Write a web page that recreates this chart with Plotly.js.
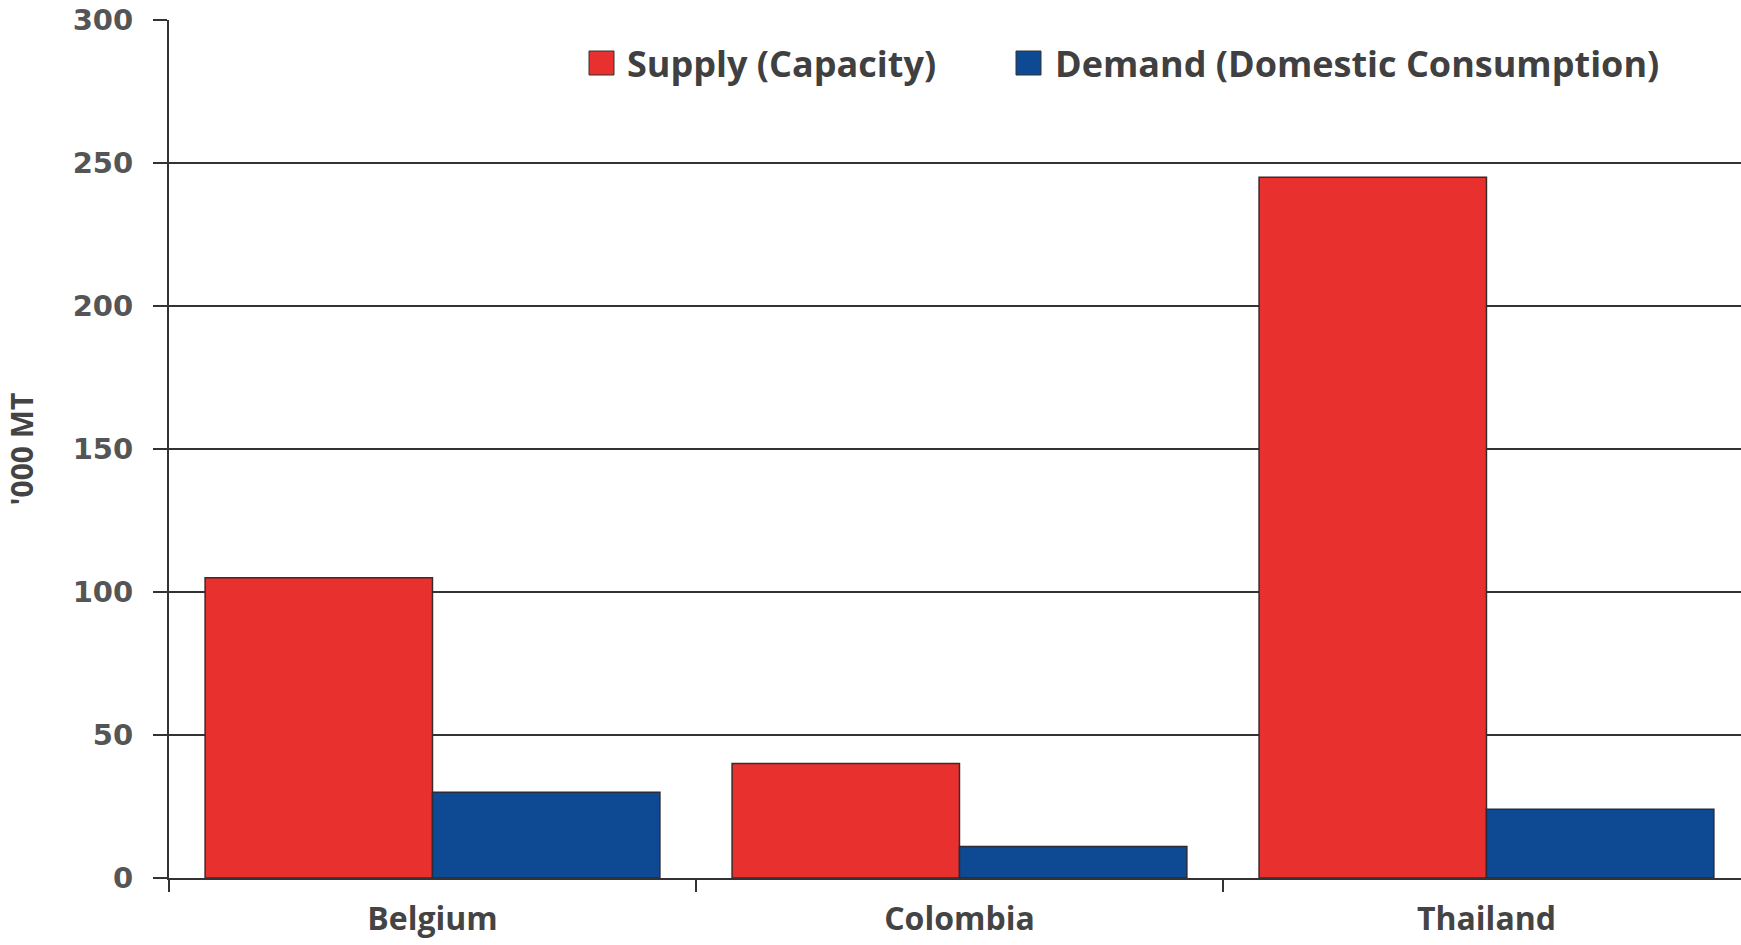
<!DOCTYPE html>
<html><head><meta charset="utf-8">
<script src="https://cdn.plot.ly/plotly-3.0.1.min.js"></script>
<style>html,body{margin:0;padding:0;background:#fff;}#chart{width:1741px;height:945px;}</style>
</head><body><div id="chart"></div>
<script>
const categories = ["Belgium", "Colombia", "Thailand"];
const supplyName = "Supply (Capacity)";
const demandName = "Demand (Domestic Consumption)";
const supplyValues = [105, 40, 245];
const demandValues = [30, 11, 24];
const yTickValues = [0, 50, 100, 150, 200, 250, 300];
const yTitle = "'000 MT";

const supplyColor = "#E8302F";
const demandColor = "#0E4A93";

const traces = [
  {type: "bar", name: supplyName, x: categories, y: supplyValues, showlegend: false,
   marker: {color: supplyColor, line: {color: "#3a2a2a", width: 1.5}}},
  {type: "bar", name: demandName, x: categories, y: demandValues, showlegend: false,
   marker: {color: demandColor, line: {color: "#2a2a3a", width: 1.5}}}
];

// legend drawn as swatches + labels in paper coordinates
const L = 169, W = 1572, T = 20, H = 858;
const px = v => (v - L) / W;
const py = v => 1 - (v - T) / H;
const legendFont = {family: "Open Sans, sans-serif", size: 36, color: "#404040", weight: "bold"};
const legendItems = [
  {name: supplyName, color: supplyColor, sx: 589, tx: 625},
  {name: demandName, color: demandColor, sx: 1016, tx: 1053}
];
const shapes = legendItems.map(it => ({
  type: "rect", xref: "paper", yref: "paper",
  x0: px(it.sx), x1: px(it.sx + 25), y0: py(75), y1: py(51),
  fillcolor: it.color, line: {color: "#333", width: 1}
}));
const annotations = legendItems.map(it => ({
  text: it.name, xref: "paper", yref: "paper", x: px(it.tx), y: py(63),
  xanchor: "left", yanchor: "middle", showarrow: false, font: legendFont
}));

const layout = {
  width: 1741, height: 945,
  margin: {l: 169, r: 0, t: 20, b: 67},
  paper_bgcolor: "#fff", plot_bgcolor: "#fff",
  barmode: "group", bargap: 0.137, bargroupgap: 0,
  showlegend: false,
  shapes: shapes, annotations: annotations,
  xaxis: {range: [-0.5, 2.483], tickson: "boundaries", ticks: "outside", ticklen: 12,
          tickcolor: "#333", tickwidth: 2, showline: true, linecolor: "#333", linewidth: 2,
          showgrid: false, zeroline: false,
          tickfont: {family: "Open Sans, sans-serif", size: 32, color: "#444", weight: "bold"},
          ticklabelstandoff: 12},
  yaxis: {range: [0, 300], tickvals: yTickValues, ticks: "outside", ticklen: 14,
          tickcolor: "#333", tickwidth: 2, showline: true, linecolor: "#333", linewidth: 2,
          showgrid: true, gridcolor: "#333", gridwidth: 2, zeroline: false,
          tickfont: {family: "DejaVu Sans, sans-serif", size: 29, color: "#555", weight: "bold"},
          ticklabelstandoff: 14,
          title: {text: yTitle, standoff: 30,
                  font: {family: "Open Sans, sans-serif", size: 30, color: "#444", weight: "bold"}}}
};

Plotly.newPlot("chart", traces, layout, {displayModeBar: false, staticPlot: true});
</script></body></html>
